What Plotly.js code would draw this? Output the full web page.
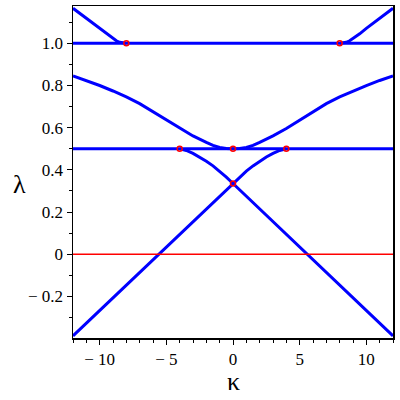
<!DOCTYPE html>
<html>
<head>
<meta charset="utf-8">
<script src="https://cdn.plot.ly/plotly-3.0.1.min.js"></script>
<style>
  body { margin: 0; background: #fff; }
  #chart { width: 400px; height: 400px; }
</style>
</head>
<body>
<div id="chart"></div>
<script>
// Branches (kappa, lambda)
const upperLeftX = [-12, -11.5, -11, -10.5, -10, -9.5, -9, -8.75, -8.5, -8.25, -8];
const upperLeftY = [1.166, 1.142, 1.118, 1.095, 1.071, 1.045, 1.022, 1.012, 1.005, 1.001, 1.0];
const upperRightX = [8, 8.25, 8.5, 8.75, 9, 9.5, 10, 10.5, 11, 11.5, 12];
const upperRightY = [1.0, 1.001, 1.005, 1.012, 1.022, 1.045, 1.071, 1.095, 1.118, 1.142, 1.166];

const bowlX = [-12, -11, -10, -9, -8, -7, -6, -5, -4, -3, -2, -1.5, -1, -0.5, 0,
               0.5, 1, 1.5, 2, 3, 4, 5, 6, 7, 8, 9, 10, 11, 12];
const bowlY = [0.845, 0.824, 0.8, 0.774, 0.746, 0.714, 0.676, 0.635, 0.596, 0.561, 0.53, 0.516, 0.506, 0.501, 0.5,
               0.501, 0.506, 0.516, 0.53, 0.561, 0.596, 0.635, 0.676, 0.714, 0.746, 0.774, 0.8, 0.824, 0.845];

// rising branch: straight up to the crossing, then bends into lambda = 0.5 at kappa = 4
const risingX = [-12, 0, 0.5, 1, 1.5, 2, 2.5, 3, 3.5, 4];
const risingY = [-0.387, 0.3355, 0.366, 0.394, 0.419, 0.441, 0.461, 0.478, 0.492, 0.5];
// falling branch, mirror of the rising one
const fallingX = [-4, -3.5, -3, -2.5, -2, -1.5, -1, -0.5, 0, 12];
const fallingY = [0.5, 0.492, 0.478, 0.461, 0.441, 0.419, 0.394, 0.366, 0.3355, -0.387];

const flatLevels = [1.0, 0.5];
const zeroLevel = 0;

const pointsX = [-8, 8, -4, 0, 4, 0];
const pointsY = [1.0, 1.0, 0.5, 0.5, 0.5, 0.3355];

const xTickVals = [-10, -5, 0, 5, 10];
const xTickText = ['\u2212 10', '\u2212 5', '0', '5', '10'];
const yTickVals = [-0.2, 0, 0.2, 0.4, 0.6, 0.8, 1.0];
const yTickText = ['\u2212 0.2', '0', '0.2', '0.4', '0.6', '0.8', '1.0'];

const blue = 'rgb(0,0,255)';
const blueLine = { color: blue, width: 3 };

const traces = [];
flatLevels.forEach(level => {
    traces.push({ x: [-12, 12], y: [level, level], mode: 'lines', line: blueLine });
});
traces.push({ x: upperLeftX, y: upperLeftY, mode: 'lines', line: blueLine });
traces.push({ x: upperRightX, y: upperRightY, mode: 'lines', line: blueLine });
traces.push({ x: bowlX, y: bowlY, mode: 'lines', line: blueLine });
traces.push({ x: risingX, y: risingY, mode: 'lines', line: blueLine });
traces.push({ x: fallingX, y: fallingY, mode: 'lines', line: blueLine });
traces.push({ x: [-12, 12], y: [zeroLevel, zeroLevel], mode: 'lines', line: { color: 'rgb(255,0,0)', width: 1.5 } });
traces.push({
    x: pointsX, y: pointsY, mode: 'markers',
    marker: { symbol: 'circle-open', size: 5, color: 'rgb(255,0,0)', line: { width: 1.5, color: 'rgb(255,0,0)' } }
});

const serif = 'Times New Roman';
const tickFont = { family: serif, size: 17, color: '#000' };

const layout = {
    width: 400,
    height: 400,
    margin: { l: 73, r: 7, t: 6, b: 62 },
    showlegend: false,
    paper_bgcolor: '#fff',
    plot_bgcolor: '#fff',
    font: { family: serif, color: '#000' },
    xaxis: {
        range: [-12, 12],
        showgrid: false,
        zeroline: false,
        showline: true,
        linecolor: '#000',
        linewidth: 1.5,
        mirror: true,
        ticks: 'outside',
        ticklen: 5,
        tickcolor: '#000',
        tickvals: xTickVals,
        ticktext: xTickText,
        tickfont: tickFont,
        minor: { dtick: 1, ticks: 'outside', ticklen: 3, tickcolor: '#000' }
    },
    yaxis: {
        range: [-0.397, 1.177],
        showgrid: false,
        zeroline: false,
        showline: true,
        linecolor: '#000',
        linewidth: 1.5,
        mirror: true,
        ticks: 'outside',
        ticklen: 5,
        tickcolor: '#000',
        tickvals: yTickVals,
        ticktext: yTickText,
        tickfont: tickFont,
        minor: { dtick: 0.1, tick0: 0, ticks: 'outside', ticklen: 3, tickcolor: '#000' }
    },
    annotations: [
        { text: '\u03bb', xref: 'paper', yref: 'paper', x: -0.166, y: 0.461,
          xanchor: 'center', yanchor: 'middle', showarrow: false,
          font: { family: serif, size: 26, color: '#000' } },
        { text: '\u03ba', xref: 'paper', yref: 'paper', x: 0.5, y: -0.13,
          xanchor: 'center', yanchor: 'middle', showarrow: false,
          font: { family: serif, size: 26, color: '#000' } }
    ]
};

Plotly.newPlot('chart', traces, layout, { displayModeBar: false, staticPlot: true });
</script>
</body>
</html>
